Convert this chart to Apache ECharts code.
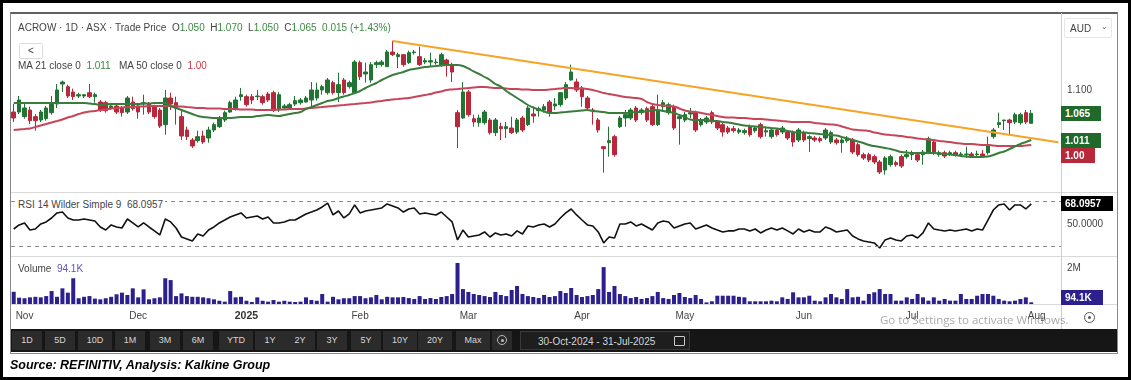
<!DOCTYPE html>
<html><head><meta charset="utf-8">
<script src="https://cdn.jsdelivr.net/npm/echarts@6/dist/echarts.min.js"></script>
<style>
html,body{margin:0;padding:0;background:#fff;}
#wrap{position:relative;width:1131px;height:380px;overflow:hidden;font-family:"Liberation Sans",Arial,sans-serif;color:#444;}
.a{position:absolute;}
#outer{left:0;top:0;width:1125px;height:374px;border:3px solid #000;}
#panel{left:10px;top:12px;width:1106px;height:339px;border:1px solid #8a8a8a;border-top:2px solid #606060;}
.hl{height:1px;background:#d9d9d9;}
.vl{width:1px;background:#cfcfcf;}
#chart{left:0;top:0;width:1131px;height:380px;}
.txt{font-size:10px;line-height:12px;white-space:nowrap;}
.g{color:#3d8a41;} .r{color:#c8394b;} .b{color:#5b4fc8;}
#tb{left:11px;top:329px;width:1106px;height:23px;background:#161616;}
.btn{position:absolute;top:2px;height:19px;background:#2b2b2b;color:#d6d6d6;font-size:9px;line-height:19px;text-align:center;}
.tag{position:absolute;left:1061px;height:15px;line-height:15px;color:#fff;font-size:10px;font-weight:bold;padding-left:4px;box-sizing:border-box;}
#cap{left:10px;top:358px;font-size:12.5px;font-weight:bold;font-style:italic;color:#000;white-space:nowrap;}
</style></head>
<body>
<div id="wrap">
  <div id="outer" class="a"></div>
  <div id="panel" class="a"></div>
  <div class="a hl" style="left:11px;top:192px;width:1106px;"></div>
  <div class="a hl" style="left:11px;top:256px;width:1106px;"></div>
  <div class="a hl" style="left:11px;top:304px;width:1106px;"></div>
  <div class="a vl" style="left:1061px;top:13px;height:316px;"></div>
  <div id="chart" class="a"></div>

  <div class="a txt" style="left:18px;top:22px;">ACROW · 1D · ASX · Trade Price&nbsp;&nbsp;O<span class="g">1.050</span>&nbsp;&nbsp;H<span class="g">1.070</span>&nbsp;&nbsp;L<span class="g">1.050</span>&nbsp;&nbsp;C<span class="g">1.065</span>&nbsp;&nbsp;<span class="g">0.015 (+1.43%)</span></div>
  <div class="a" style="left:19px;top:43px;width:22px;height:14px;border:1px solid #dcdcdc;border-radius:2px;font-size:10px;line-height:14px;text-align:center;color:#333;">&lt;</div>
  <div class="a txt" style="left:18px;top:60px;">MA 21 close 0&nbsp;&nbsp;<span class="g">1.011</span>&nbsp;&nbsp;&nbsp;MA 50 close 0&nbsp;&nbsp;<span class="r">1.00</span></div>
  <div class="a txt" style="left:16px;top:199px;background:#fff;padding:0 2px;">RSI 14 Wilder Simple 9&nbsp;&nbsp;68.0957</div>
  <div class="a txt" style="left:18px;top:263px;">Volume&nbsp;&nbsp;<span class="b">94.1K</span></div>

  <div class="a" style="left:1064px;top:18px;width:48px;height:20px;border:1px solid #e6e6e6;border-radius:2px;box-sizing:border-box;">
    <span class="a txt" style="left:5px;top:4px;">AUD</span><span class="a" style="left:36px;top:3px;font-size:8px;color:#666;">&#8964;</span>
  </div>

  <div class="a" style="left:1084px;top:312px;width:11px;height:11px;border:1.5px solid #555;border-radius:50%;box-sizing:border-box;"></div>
  <div class="a" style="left:1088px;top:316px;width:3px;height:3px;background:#555;border-radius:50%;"></div>
  <div class="a" style="left:880px;top:312px;font-family:'Open Sans';font-size:11.5px;color:rgba(110,110,110,0.6);white-space:nowrap;">Go to Settings to activate Windows.</div>

  <div id="tb" class="a"></div>
  <div id="cap" class="a">Source: REFINITIV, Analysis: Kalkine Group</div>
</div>
<script>
// ---------------- data ----------------
const holidays = ['2024-12-25','2024-12-26','2025-01-01','2025-01-27','2025-04-18','2025-04-21','2025-04-25','2025-06-09'];
const firstDate = '2024-10-30';
const lastAxisDate = '2025-08-07';
const monthNames = ['2025','Feb','Mar','Apr','May','Jun','Jul','Aug','Sep','Oct','Nov','Dec'];

// daily candles [open, high, low, close]
const prices = [
[1.067,1.079,1.052,1.058],[1.067,1.091,1.064,1.085],[1.060,1.079,1.057,1.073],[1.070,1.075,1.049,1.054],[1.060,1.064,1.039,1.054],
[1.055,1.070,1.052,1.067],[1.057,1.076,1.054,1.073],[1.066,1.091,1.063,1.081],[1.079,1.109,1.073,1.100],[1.109,1.114,1.097,1.112],
[1.105,1.108,1.088,1.091],[1.097,1.102,1.085,1.090],[1.091,1.096,1.088,1.093],[1.091,1.094,1.088,1.093],[1.096,1.109,1.088,1.090],
[1.090,1.096,1.081,1.093],[1.082,1.085,1.067,1.070],[1.081,1.084,1.066,1.069],[1.073,1.079,1.070,1.076],[1.076,1.078,1.064,1.067],
[1.073,1.076,1.060,1.066],[1.067,1.091,1.064,1.088],[1.082,1.090,1.069,1.072],[1.076,1.079,1.057,1.067],[1.079,1.093,1.063,1.081],
[1.079,1.082,1.064,1.067],[1.075,1.078,1.057,1.060],[1.070,1.073,1.043,1.046],[1.048,1.100,1.033,1.088],[1.088,1.096,1.070,1.079],
[1.081,1.090,1.048,1.073],[1.060,1.070,1.025,1.031],[1.040,1.045,1.025,1.030],[1.025,1.028,1.013,1.016],[1.024,1.039,1.021,1.030],
[1.031,1.039,1.019,1.022],[1.028,1.045,1.021,1.040],[1.040,1.051,1.037,1.048],[1.045,1.061,1.043,1.058],[1.055,1.069,1.052,1.066],
[1.067,1.084,1.066,1.081],[1.072,1.090,1.069,1.085],[1.090,1.103,1.084,1.093],[1.090,1.093,1.075,1.078],[1.090,1.094,1.079,1.085],
[1.090,1.100,1.085,1.091],[1.090,1.093,1.078,1.081],[1.094,1.097,1.082,1.085],[1.096,1.099,1.067,1.070],[1.070,1.097,1.067,1.093],
[1.073,1.079,1.070,1.076],[1.073,1.081,1.070,1.078],[1.079,1.091,1.076,1.084],[1.081,1.088,1.078,1.085],[1.082,1.091,1.081,1.088],
[1.085,1.112,1.075,1.100],[1.088,1.111,1.084,1.100],[1.100,1.108,1.093,1.105],[1.096,1.118,1.093,1.115],[1.111,1.114,1.093,1.096],
[1.096,1.126,1.082,1.108],[1.115,1.118,1.093,1.096],[1.105,1.114,1.102,1.111],[1.096,1.145,1.094,1.142],[1.141,1.144,1.115,1.120],
[1.124,1.141,1.111,1.127],[1.115,1.142,1.111,1.138],[1.138,1.144,1.133,1.141],[1.138,1.145,1.135,1.142],[1.135,1.160,1.135,1.157],
[1.157,1.174,1.151,1.153],[1.150,1.156,1.133,1.153],[1.153,1.154,1.135,1.138],[1.141,1.159,1.139,1.156],[1.156,1.160,1.153,1.157],
[1.150,1.165,1.136,1.138],[1.142,1.148,1.139,1.144],[1.142,1.156,1.135,1.144],[1.141,1.147,1.138,1.142],[1.138,1.156,1.135,1.153],
[1.145,1.147,1.120,1.138],[1.138,1.141,1.112,1.127],[1.066,1.070,1.013,1.045],[1.058,1.112,1.057,1.097],[1.097,1.100,1.060,1.063],
[1.057,1.063,1.045,1.052],[1.051,1.063,1.045,1.058],[1.051,1.070,1.048,1.067],[1.055,1.058,1.033,1.036],[1.036,1.058,1.031,1.055],
[1.045,1.051,1.025,1.042],[1.042,1.052,1.028,1.045],[1.043,1.060,1.034,1.036],[1.037,1.058,1.034,1.055],[1.058,1.061,1.037,1.040],
[1.048,1.076,1.046,1.073],[1.064,1.075,1.051,1.061],[1.069,1.075,1.060,1.072],[1.070,1.079,1.066,1.075],[1.082,1.085,1.060,1.066],
[1.076,1.088,1.070,1.079],[1.078,1.097,1.075,1.096],[1.088,1.112,1.085,1.108],[1.115,1.138,1.114,1.127],[1.112,1.117,1.097,1.100],
[1.103,1.106,1.075,1.090],[1.088,1.091,1.070,1.073],[1.070,1.073,1.048,1.069],[1.055,1.058,1.036,1.040],[1.015,1.016,0.976,1.012],
[1.021,1.045,1.000,1.024],[1.030,1.033,1.000,1.003],[1.045,1.061,1.043,1.058],[1.058,1.070,1.045,1.063],[1.058,1.073,1.055,1.070],
[1.073,1.076,1.052,1.055],[1.066,1.073,1.063,1.070],[1.072,1.075,1.052,1.055],[1.075,1.078,1.046,1.048],[1.048,1.093,1.046,1.070],
[1.075,1.085,1.067,1.081],[1.066,1.081,1.063,1.078],[1.075,1.078,1.040,1.043],[1.057,1.063,1.018,1.060],[1.055,1.067,1.052,1.063],
[1.064,1.073,1.058,1.066],[1.066,1.069,1.037,1.040],[1.048,1.058,1.045,1.055],[1.052,1.061,1.049,1.058],[1.066,1.069,1.049,1.052],
[1.052,1.055,1.040,1.043],[1.048,1.051,1.030,1.037],[1.043,1.046,1.034,1.037],[1.042,1.046,1.036,1.039],[1.037,1.043,1.034,1.040],
[1.036,1.042,1.033,1.039],[1.045,1.048,1.030,1.033],[1.039,1.046,1.036,1.043],[1.048,1.051,1.027,1.030],[1.037,1.045,1.030,1.039],
[1.030,1.043,1.027,1.040],[1.040,1.043,1.030,1.033],[1.037,1.046,1.034,1.043],[1.037,1.040,1.025,1.028],[1.036,1.039,1.015,1.022],
[1.025,1.043,1.022,1.040],[1.036,1.039,1.022,1.025],[1.027,1.033,1.007,1.030],[1.028,1.031,1.022,1.025],[1.027,1.030,1.021,1.024],
[1.028,1.043,1.025,1.040],[1.022,1.039,1.019,1.036],[1.025,1.028,1.018,1.021],[1.021,1.030,1.006,1.025],[1.024,1.031,1.021,1.028],
[1.025,1.028,1.004,1.007],[1.018,1.021,1.000,1.003],[1.003,1.006,0.995,0.998],[1.003,1.006,0.992,0.995],[1.000,1.003,0.989,0.992],
[0.992,0.995,0.974,0.977],[0.980,1.001,0.973,0.998],[0.988,1.003,0.985,1.000],[0.991,0.994,0.985,0.988],[1.000,1.003,0.983,0.986],
[1.000,1.010,0.997,1.003],[1.003,1.009,0.995,1.004],[1.003,1.006,0.992,0.995],[1.003,1.010,0.988,1.007],[1.007,1.030,1.004,1.027],
[1.022,1.025,1.003,1.007],[1.003,1.009,1.000,1.006],[1.006,1.009,0.998,1.001],[1.004,1.009,1.001,1.006],[1.006,1.009,1.000,1.003],
[1.003,1.007,1.000,1.004],[1.003,1.015,0.998,1.004],[1.004,1.007,0.998,1.001],[1.003,1.009,1.000,1.004],[1.004,1.010,0.998,1.001],
[1.006,1.030,1.003,1.018],[1.030,1.043,1.027,1.040],[1.048,1.066,1.043,1.051],[1.054,1.055,1.040,1.055],[1.055,1.057,1.033,1.051],
[1.052,1.066,1.049,1.063],[1.051,1.066,1.048,1.063],[1.066,1.070,1.049,1.052],[1.050,1.070,1.050,1.065]
];

const ma21 = [
1.0805,1.0805,1.0805,1.0805,1.0805,1.0805,1.0805,1.0805,1.0805,1.0805,
1.0805,1.0805,1.0805,1.0805,1.0798,1.079,1.0775,1.0783,1.079,1.079,
1.079,1.079,1.079,1.079,1.0798,1.0798,1.0805,1.0805,1.0805,1.076,
1.073,1.070,1.067,1.064,1.061,1.0595,1.0588,1.058,1.058,1.058,
1.058,1.0588,1.0595,1.0595,1.0595,1.061,1.0618,1.0625,1.0618,1.061,
1.0625,1.064,1.0655,1.067,1.0715,1.0745,1.0775,1.0805,1.0835,1.085,
1.088,1.0903,1.0925,1.0955,1.0985,1.103,1.1068,1.1105,1.115,1.1188,
1.1225,1.1248,1.127,1.130,1.1315,1.133,1.1345,1.1353,1.136,1.1368,
1.1375,1.1375,1.1375,1.136,1.1323,1.1278,1.124,1.1195,1.115,1.109,
1.1053,1.0985,1.0933,1.088,1.0828,1.0775,1.0738,1.0708,1.0678,1.0655,
1.0655,1.0663,1.067,1.0678,1.0685,1.0693,1.070,1.0685,1.0678,1.067,
1.0655,1.0655,1.0655,1.0655,1.0663,1.067,1.067,1.0685,1.0693,1.070,
1.0685,1.067,1.0655,1.0625,1.0595,1.0558,1.055,1.055,1.055,1.0535,
1.0535,1.052,1.0513,1.0498,1.0483,1.0468,1.046,1.0453,1.0445,1.0438,
1.043,1.0423,1.0408,1.0385,1.037,1.0363,1.0363,1.0355,1.0348,1.034,
1.0333,1.0325,1.0318,1.0295,1.0273,1.025,1.0228,1.0205,1.0175,1.016,
1.0145,1.013,1.0115,1.0093,1.007,1.0063,1.0055,1.0055,1.0055,1.0055,
1.0055,1.0048,1.004,1.0033,1.0025,1.001,1.0003,0.9995,0.9995,0.9995,
1.0003,1.0025,1.0055,1.0078,1.0115,1.0153,1.019,1.022,1.025
];

const ma50 = [
1.040,1.0408,1.0415,1.0423,1.0445,1.0468,1.049,1.0513,1.0535,1.0558,
1.0588,1.061,1.064,1.0663,1.0678,1.0685,1.070,1.0708,1.0723,1.073,
1.0738,1.0745,1.0745,1.0753,1.0753,1.076,1.076,1.076,1.076,1.076,
1.0753,1.0753,1.0745,1.0738,1.073,1.073,1.0723,1.0723,1.0723,1.0715,
1.0715,1.0715,1.0708,1.0708,1.0708,1.070,1.070,1.070,1.070,1.0708,
1.0708,1.0715,1.0715,1.0715,1.0723,1.073,1.0738,1.0745,1.0753,1.076,
1.0768,1.0775,1.0783,1.079,1.0798,1.0805,1.0813,1.0828,1.0835,1.085,
1.0858,1.0865,1.0873,1.088,1.0895,1.091,1.0925,1.094,1.0963,1.0978,
1.100,1.1008,1.1015,1.1023,1.103,1.1038,1.1045,1.1045,1.1038,1.103,
1.103,1.1023,1.1015,1.1015,1.1008,1.1008,1.100,1.100,1.100,1.1008,
1.1015,1.1023,1.103,1.103,1.1023,1.1023,1.1015,1.100,1.0978,1.0955,
1.094,1.0925,1.091,1.0895,1.0888,1.088,1.0865,1.082,1.079,1.0775,
1.0768,1.076,1.0753,1.0723,1.0693,1.0678,1.067,1.0655,1.064,1.0625,
1.061,1.0595,1.0588,1.0588,1.058,1.058,1.0573,1.0565,1.0565,1.0558,
1.055,1.0543,1.0535,1.0528,1.052,1.052,1.052,1.052,1.0505,1.0498,
1.049,1.0483,1.0475,1.0453,1.043,1.0408,1.040,1.0393,1.0385,1.0363,
1.0348,1.0333,1.0325,1.0318,1.031,1.0295,1.0288,1.0273,1.0265,1.0258,
1.025,1.0235,1.0228,1.022,1.0205,1.0198,1.019,1.019,1.0183,1.0175,
1.0175,1.0168,1.016,1.016,1.016,1.016,1.016,1.0168,1.0175
];

const rsi = [
45.7,49.3,51.1,44.8,45.7,50.2,52,55.5,60,60.8,
55.5,53.7,53.7,54.6,53.7,52.8,47.5,44.8,49.3,47.5,
46.6,54.6,51.1,47.5,51.1,47.5,44,40.4,54.6,52,
46.6,38.6,36.9,35.1,41.3,39.5,44.8,47.5,51.1,53.7,
56.4,58.2,60,55.5,56.4,57.3,54.6,56.4,51.1,51.1,
52,53.7,53.7,56.4,59.1,60.8,62.6,65.3,68.8,58.2,
61.7,55.5,59.1,67.1,60,61.7,62.6,63.5,64.4,68,
66.2,64.4,60.8,63.5,64.4,59.1,60,59.1,58.2,60.8,
56.4,52,36,44.8,38.6,39.5,40.4,43.1,38.6,42.2,
40.4,41.3,39.5,44,41.3,48.4,47.5,49.3,50.2,47.5,
50.2,55.5,60,63.5,58.2,53.7,49.3,48.4,43.1,33.3,
38.6,37.7,50.2,50.2,52,48.4,50.2,47.5,44.8,51.1,
52.8,52,46.6,48.4,50.2,51.1,45.7,47.5,49.3,46.6,
44.8,43.1,44,44,45.7,45.7,44,45.7,42.2,44.8,
46.6,44.8,46.6,44,41.3,45.7,43.1,44.8,43.1,43.1,
47.5,45.7,43.1,44,44.8,39.5,36.9,35.1,34.2,33.3,
28.8,36,37.7,36,35.1,39.5,40.4,37.7,42.2,51.1,
45.7,44.8,44,44.8,44,44.8,45.7,44,45.7,44.8,
53.7,62.6,67.1,68,62.6,67.1,67.1,63.5,68.0957
];

// volume in thousands of shares
const volumeK = [
680,350,320,370,400,370,440,720,400,870,
630,1430,320,400,440,300,260,320,400,540,
630,500,870,370,815,260,320,370,1430,1330,
440,590,440,400,400,370,320,260,180,130,
720,370,400,180,110,370,180,130,220,130,
180,130,110,130,370,220,180,555,130,400,
260,320,320,440,440,320,370,500,260,400,
370,370,390,330,280,440,280,330,280,390,
440,555,2280,830,670,555,500,440,390,670,
500,440,780,1000,555,440,390,330,500,390,
440,720,610,890,500,390,440,500,830,2050,
670,1000,555,440,330,390,280,330,440,670,
330,280,500,610,390,330,500,280,90,150,
460,460,460,460,400,370,150,150,150,150,
185,150,370,280,650,370,370,460,185,150,
370,555,370,280,830,370,400,185,555,650,
830,555,555,185,185,370,280,555,370,185,
370,185,280,185,185,555,280,280,460,555,
555,460,280,185,150,185,280,370,94.1
];

// trend line endpoints [date, price]
const trendLine = [['2025-02-11', 1.1735], ['2025-08-07', 1.0215]];

// axis label values and tag texts
const priceLabelValues = [1.1];
const rsiLabelValues = [50];
const rsiBands = [70, 30];
const volLabelValues = [2000];
const lastTags = { close: '1.065', ma21: '1.011', ma50: '1.00', rsi: '68.0957', vol: '94.1K' };

const toolbarButtons = ['1D','5D','10D','1M','3M','6M','YTD','1Y','2Y','3Y','5Y','10Y','20Y','Max'];
const dateRangeText = '30-Oct-2024  -  31-Jul-2025';

// ---------------- build ----------------
function tradingDays(from, to) {
  const out = [];
  let d = new Date(from + 'T00:00:00Z');
  const end = new Date(to + 'T00:00:00Z');
  while (d <= end) {
    const wd = d.getUTCDay();
    const s = d.toISOString().slice(0, 10);
    if (wd !== 0 && wd !== 6 && !holidays.includes(s)) out.push(s);
    d = new Date(d.getTime() + 86400000);
  }
  return out;
}
const dates = tradingDays(firstDate, lastAxisDate);
function isMonthStart(idx) {
  return idx > 0 && dates[idx].slice(5, 7) !== dates[idx - 1].slice(5, 7);
}

const UP = '#1f7531', DOWN = '#b8283b';
const chart = echarts.init(document.getElementById('chart'), null, { renderer: 'canvas' });
const FONT = '"Liberation Sans", Arial, sans-serif';
const gridCommon = { left: 11, right: 70 };
function xAx(gi, showLabel) {
  return {
    type: 'category', gridIndex: gi, data: dates, boundaryGap: true,
    axisLine: { show: false }, axisTick: { show: false }, splitLine: { show: false },
    axisLabel: showLabel ? {
      show: true, margin: 7, fontSize: 10, color: '#444', fontFamily: FONT,
      interval: (idx) => isMonthStart(idx),
      formatter: (v) => {
        const m = parseInt(v.slice(5, 7), 10);
        return m === 1 ? '{b|2025}' : monthNames[m - 1];
      },
      rich: { b: { fontWeight: 'bold', fontSize: 10.5, color: '#333', fontFamily: FONT } }
    } : { show: false }
  };
}
function yAx(gi, min, max, values, fmt) {
  return {
    type: 'value', gridIndex: gi, position: 'right', min, max, scale: true,
    axisLine: { show: false }, axisTick: { show: false }, splitLine: { show: false },
    axisLabel: {
      show: true, margin: 6, fontSize: 10, color: '#444', fontFamily: FONT,
      customValues: values,
      formatter: (v) => values.some(x => Math.abs(x - v) < 1e-9) ? fmt(v) : ''
    }
  };
}

const option = {
  animation: false,
  backgroundColor: 'transparent',
  grid: [
    Object.assign({ top: 13, height: 179 }, gridCommon),
    Object.assign({ top: 192, height: 64 }, gridCommon),
    Object.assign({ top: 256, height: 48 }, gridCommon)
  ],
  xAxis: [xAx(0, false), xAx(1, false), xAx(2, true)],
  yAxis: [
    yAx(0, 0.947, 1.2155, priceLabelValues, v => v.toFixed(3)),
    yAx(1, 21.7, 78.6, rsiLabelValues, v => v.toFixed(4)),
    yAx(2, 0, 2667, volLabelValues, v => (v / 1000) + 'M')
  ],
  series: [
    {
      type: 'candlestick', xAxisIndex: 0, yAxisIndex: 0, barWidth: 4,
      data: prices.map(([o, h, l, c]) => [o, c, l, h]),
      itemStyle: { color: UP, color0: DOWN, borderColor: UP, borderColor0: DOWN, borderWidth: 1 }
    },
    { type: 'line', xAxisIndex: 0, yAxisIndex: 0, data: ma50, symbol: 'none', smooth: true,
      lineStyle: { color: '#c64558', width: 2 }, z: 3 },
    { type: 'line', xAxisIndex: 0, yAxisIndex: 0, data: ma21, symbol: 'none', smooth: true,
      lineStyle: { color: '#3a7c3c', width: 2 }, z: 4 },
    { type: 'line', xAxisIndex: 0, yAxisIndex: 0, data: trendLine, symbol: 'none',
      lineStyle: { color: '#f7a325', width: 2 }, z: 5 },
    { type: 'line', xAxisIndex: 1, yAxisIndex: 1, data: rsi, symbol: 'none',
      lineStyle: { color: '#111', width: 1.6 },
      markLine: { silent: true, symbol: 'none', label: { show: false },
        lineStyle: { color: '#8a8a8a', type: [4, 4], width: 1 },
        data: rsiBands.map(v => ({ yAxis: v })) } },
    { type: 'bar', xAxisIndex: 2, yAxisIndex: 2, data: volumeK, barWidth: 4,
      itemStyle: { color: '#2c1f8e' } }
  ]
};
chart.setOption(option);

// value tags on the right axis
function addTag(y, text, bg, w) {
  const d = document.createElement('div');
  d.className = 'tag';
  d.style.top = (y - 7.5) + 'px';
  d.style.width = w + 'px';
  d.style.background = bg;
  d.textContent = text;
  document.getElementById('wrap').appendChild(d);
}
const yClose = chart.convertToPixel({ yAxisIndex: 0 }, prices[prices.length - 1][3]);
const yMa21 = chart.convertToPixel({ yAxisIndex: 0 }, ma21[ma21.length - 1]);
let yMa50 = chart.convertToPixel({ yAxisIndex: 0 }, ma50[ma50.length - 1]);
if (yMa50 < yMa21 + 15) yMa50 = yMa21 + 15;
const yRsi = chart.convertToPixel({ yAxisIndex: 1 }, rsi[rsi.length - 1]);
const yVol = chart.convertToPixel({ yAxisIndex: 2 }, 2000) + 29;
addTag(yClose, lastTags.close, '#1f6a2b', 40);
addTag(yMa21, lastTags.ma21, '#1f6a2b', 40);
addTag(yMa50, lastTags.ma50, '#b8283b', 34);
addTag(yRsi, lastTags.rsi, '#000', 52);
addTag(yVol, lastTags.vol, '#2c1f8e', 42);

// toolbar
const tb = document.getElementById('tb');
const centers = [16, 49, 84, 119, 154, 187, 225, 259, 289, 321, 355, 389, 424, 462];
toolbarButtons.forEach((t, i) => {
  const b = document.createElement('div');
  b.className = 'btn';
  const w = t.length >= 3 ? 34 : 30;
  b.style.left = (centers[i] - w / 2) + 'px';
  b.style.width = w + 'px';
  b.textContent = t;
  tb.appendChild(b);
});
const ic = document.createElement('div');
ic.className = 'btn'; ic.style.left = '481px'; ic.style.width = '20px';
ic.innerHTML = '<div style="position:absolute;left:5px;top:4px;width:10px;height:10px;border:1.5px solid #bbb;border-radius:50%;box-sizing:border-box;"></div><div style="position:absolute;left:8.5px;top:7.5px;width:3px;height:3px;background:#bbb;border-radius:50%;"></div>';
tb.appendChild(ic);
const db = document.createElement('div');
db.className = 'btn';
db.style.left = '509px'; db.style.width = '170px'; db.style.textAlign = 'left';
db.style.background = '#1e1e1e'; db.style.border = '1px solid #3a3a3a'; db.style.boxSizing = 'border-box';
db.style.fontSize = '10px';
db.innerHTML = '<span style="position:absolute;left:17px;top:0;">' + dateRangeText + '</span><span style="position:absolute;left:153px;top:4px;width:9px;height:8px;border:1.3px solid #ccc;border-radius:1px;"></span>';
tb.appendChild(db);
</script>
</body></html>
